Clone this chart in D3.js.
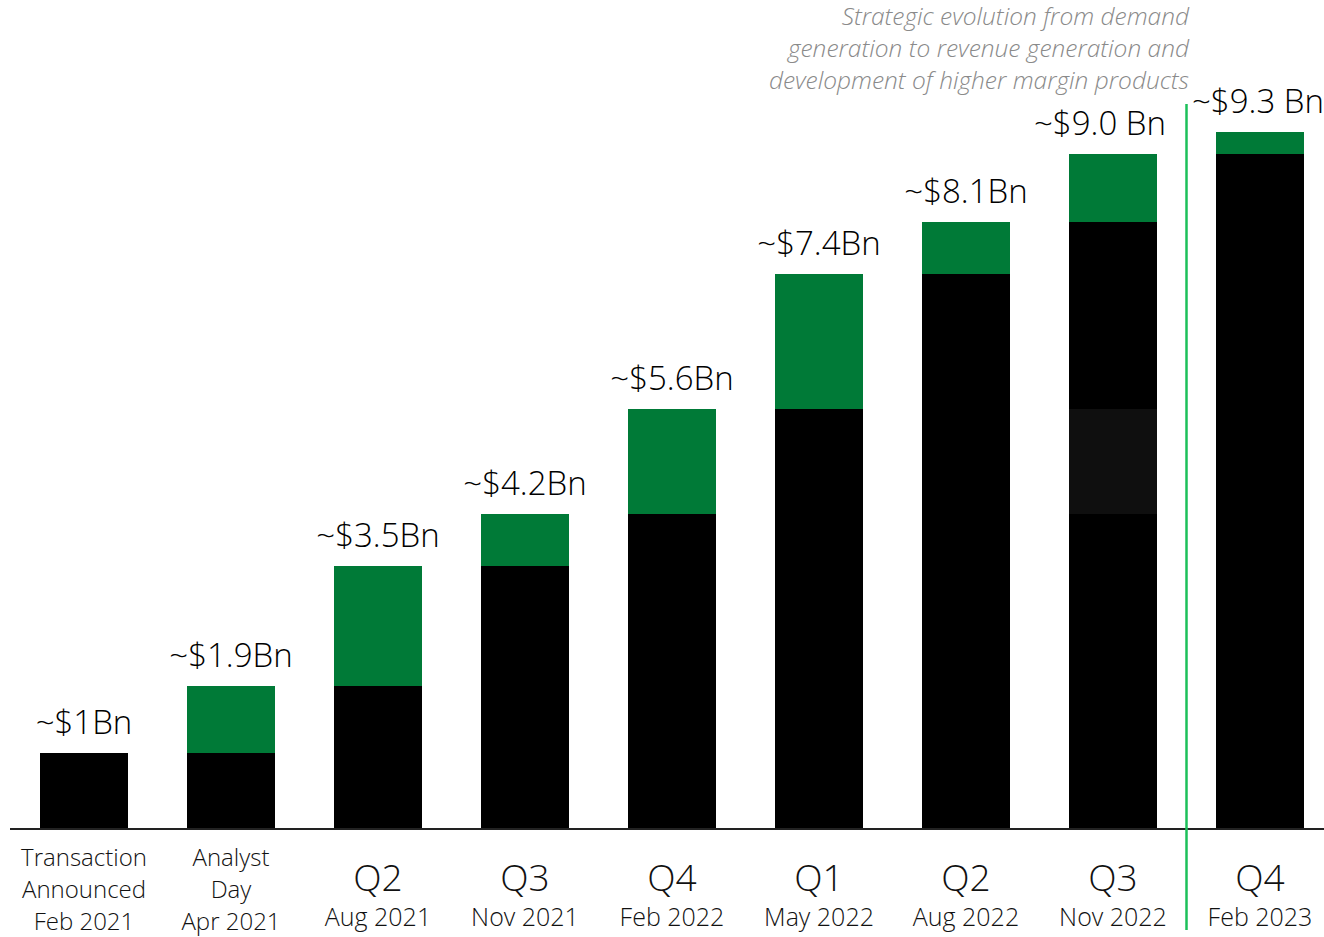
<!DOCTYPE html>
<html>
<head>
<meta charset="utf-8">
<script src="https://cdn.jsdelivr.net/npm/d3@7"></script>
<style>
  body { margin: 0; background: white; }
  text { font-family: "Open Sans", "Noto Sans", sans-serif; }
</style>
</head>
<body>
<script>
// Data
let categories = ['Transaction Announced', 'Analyst Day', 'Q2 Aug 2021', 'Q3 Nov 2021', 'Q4 Feb 2022',
                  'Q1 May 2022', 'Q2 Aug 2022', 'Q3 Nov 2022', 'Q4 Feb 2023'];
let labelLines = [
  ['Transaction', 'Announced', 'Feb 2021'],
  ['Analyst', 'Day', 'Apr 2021'],
  ['Q2', 'Aug 2021'],
  ['Q3', 'Nov 2021'],
  ['Q4', 'Feb 2022'],
  ['Q1', 'May 2022'],
  ['Q2', 'Aug 2022'],
  ['Q3', 'Nov 2022'],
  ['Q4', 'Feb 2023']
];
let totals = [1.0, 1.9, 3.5, 4.2, 5.6, 7.4, 8.1, 9.0, 9.3];
let valueLabels = ['~$1Bn', '~$1.9Bn', '~$3.5Bn', '~$4.2Bn', '~$5.6Bn', '~$7.4Bn', '~$8.1Bn', '~$9.0 Bn', '~$9.3 Bn'];
let note = ['Strategic evolution from demand', 'generation to revenue generation and', 'development of higher margin products'];

let width = 1324, height = 937;
let baseY = 828;

let svg = d3.select('body').append('svg')
  .attr('width', width)
  .attr('height', height)
  .style('background', 'white');

// step 147px, bar 88px, first bar at x=40
let xScale = d3.scaleBand()
  .domain(categories)
  .range([10.6, 10.6 + 147 * (9 - 0.4014 + 0.4)])
  .paddingInner(0.4014)
  .paddingOuter(0.2);

let yScale = d3.scaleLinear()
  .domain([0, 9.3])
  .range([baseY, 132]);

// black = previous total, green = increase since previous update
let prevTotals = totals.map((t, i) => i === 0 ? t : totals[i - 1]);

let bars = svg.selectAll('g.bar')
  .data(totals)
  .enter()
  .append('g')
  .attr('class', 'bar')
  .attr('shape-rendering', 'crispEdges');

bars.append('rect')
  .attr('x', (d, i) => xScale(categories[i]))
  .attr('width', xScale.bandwidth())
  .attr('y', (d, i) => yScale(prevTotals[i]))
  .attr('height', (d, i) => yScale(0) - yScale(prevTotals[i]))
  .attr('fill', '#000');

bars.filter((d, i) => i > 0).append('rect')
  .attr('x', (d, i) => xScale(categories[i + 1]))
  .attr('width', xScale.bandwidth())
  .attr('y', d => yScale(d))
  .attr('height', (d, i) => yScale(prevTotals[i + 1]) - yScale(d))
  .attr('fill', '#007a37');

// slightly lighter segment inside the Q3 Nov 2022 bar (4.2 to 5.6)
svg.append('rect')
  .attr('shape-rendering', 'crispEdges')
  .attr('x', xScale(categories[7]))
  .attr('width', xScale.bandwidth())
  .attr('y', yScale(totals[4]))
  .attr('height', yScale(totals[3]) - yScale(totals[4]))
  .attr('fill', '#0f0f0f');

// baseline
svg.append('line')
  .attr('x1', 10).attr('x2', width)
  .attr('y1', baseY + 1).attr('y2', baseY + 1)
  .attr('stroke', '#222')
  .attr('stroke-width', 2);

// divider
let divX = (xScale(categories[7]) + xScale.bandwidth() + xScale(categories[8])) / 2;
svg.append('line')
  .attr('x1', divX).attr('x2', divX)
  .attr('y1', 104).attr('y2', 930)
  .attr('stroke', '#1cc05a')
  .attr('stroke-width', 2.5);

// value labels
let labelShift = [0, 0, 0, 0, 0, 0, 0, -13, -2];
svg.selectAll('.val')
  .data(totals)
  .enter()
  .append('text')
  .attr('class', 'val')
  .attr('x', (d, i) => xScale(categories[i]) + xScale.bandwidth() / 2 + labelShift[i])
  .attr('y', d => yScale(d) - 19)
  .attr('text-anchor', 'middle')
  .style('font-size', '33px')
  .style('font-weight', 300)
  .style('fill', '#000')
  .text((d, i) => valueLabels[i]);

// category labels
labelLines.forEach((lines, i) => {
  let cx = xScale(categories[i]) + xScale.bandwidth() / 2;
  let g = svg.append('text')
    .attr('text-anchor', 'middle')
    .style('fill', '#111');
  if (lines.length === 3) {
    lines.forEach((l, k) => {
      g.append('tspan').attr('x', cx).attr('y', 866 + k * 32)
        .style('font-size', '24px').style('font-weight', 300).text(l);
    });
  } else {
    g.append('tspan').attr('x', cx).attr('y', 891)
      .style('font-size', '37px').style('font-weight', 300).text(lines[0]);
    g.append('tspan').attr('x', cx).attr('y', 926)
      .style('font-size', '25px').style('font-weight', 300).text(lines[1]);
  }
});

// note
svg.append('g').selectAll('text')
  .data(note)
  .enter()
  .append('text')
  .attr('x', 1189)
  .attr('y', (d, i) => 25 + i * 32)
  .attr('text-anchor', 'end')
  .style('font-size', '24.5px')
  .style('font-style', 'italic')
  .style('font-weight', 300)
  .style('fill', '#8a8a8a')
  .text(d => d);
</script>
</body>
</html>
